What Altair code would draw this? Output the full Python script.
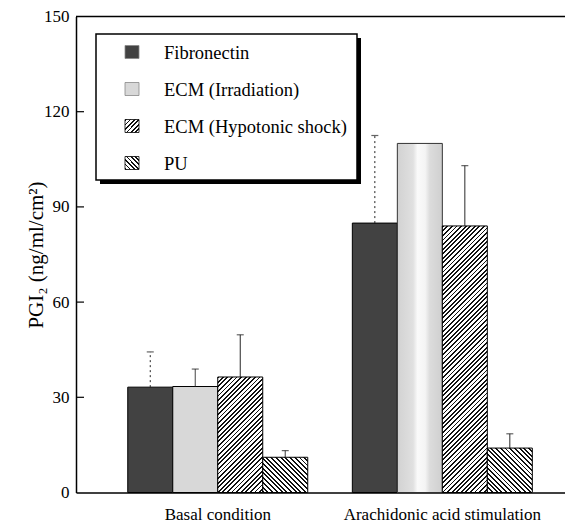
import altair as alt
import pandas as pd

# ---------------- data ----------------
groups = ["Basal condition", "Arachidonic acid stimulation"]
series = ["Fibronectin", "ECM (Irradiation)", "ECM (Hypotonic shock)", "PU"]
basal_mean = [33.2, 33.4, 36.4, 11.1]
basal_upper = [44.3, 38.9, 49.7, 13.2]
arach_mean = [84.9, 110.0, 84.0, 14.0]
arach_upper = [112.5, None, 103.0, 18.5]
y_ticks = [0, 30, 60, 90, 120, 150]
y_title = "PGI\u2082 (ng/ml/cm\u00b2)"

# ---------------- layout / style ----------------
W, H = 489, 476
PX = H / 150.0
BAR_W = 45.0
FONT = "Liberation Serif"
DARK = "#424242"
LIGHT = "#d8d8d8"

rows = []
for g, means, ups in [(groups[0], basal_mean, basal_upper),
                      (groups[1], arach_mean, arach_upper)]:
    for s, m, u in zip(series, means, ups):
        rows.append({"group": g, "series": s, "value": m, "upper": u})
df = pd.DataFrame(rows)


def hatch(w, h, kind, period=4.6, frac=0.4, ink="#111111", paper="#ffffff"):
    s = (w + h) / (w * w + h * h)
    if kind == "/":
        x1, y1, x2, y2 = 0, 0, s * w, s * h
    else:
        x1, y1, x2, y2 = 0, 1, s * w, 1 - s * h
    n = max(1, round((w + h) / period))
    stops = []
    for i in range(n):
        a, b, c = i / n, (i + frac) / n, (i + 1) / n
        stops += [alt.GradientStop(offset=round(a, 5), color=ink),
                  alt.GradientStop(offset=round(b, 5), color=ink),
                  alt.GradientStop(offset=round(b, 5), color=paper),
                  alt.GradientStop(offset=round(c, 5), color=paper)]
    return alt.LinearGradient(gradient="linear", stops=stops,
                              x1=x1, y1=y1, x2=round(x2, 5), y2=round(y2, 5))


# light stippled bar with a pale band through the middle (as in the scan)
pale_band = alt.LinearGradient(gradient="linear", x1=0, y1=0, x2=1, y2=0, stops=[
    alt.GradientStop(offset=0, color="#d2d2d2"),
    alt.GradientStop(offset=0.35, color="#e0e0e0"),
    alt.GradientStop(offset=0.45, color="#fafafa"),
    alt.GradientStop(offset=0.62, color="#f4f4f4"),
    alt.GradientStop(offset=0.72, color="#dcdcdc"),
    alt.GradientStop(offset=1, color="#cfcfcf")])

x_enc = alt.X("group:N", sort=groups,
              scale=alt.Scale(domain=groups, paddingInner=0.1986,
                              paddingOuter=0.188, align=0.613),
              axis=alt.Axis(title=None, ticks=False, tickSize=0, labelAngle=0,
                            labelPadding=14, labelFont=FONT, labelFontSize=17,
                            labelColor="black", labelLimit=0, domainColor="black",
                            domainWidth=1.5, grid=False))
xo_enc = alt.XOffset("series:N", sort=series,
                     scale=alt.Scale(domain=series, paddingInner=0, paddingOuter=0))
y_axis = alt.Axis(values=y_ticks, ticks=False, tickSize=0, labelPadding=7,
                  labelFont=FONT, labelFontSize=17, labelColor="black",
                  domainColor="black", domainWidth=1.5, grid=False,
                  title=y_title, titleFont=FONT, titleFontSize=21,
                  titleFontWeight="normal", titleColor="black",
                  titleAngle=270, titleX=-34, titleY=H / 2,
                  titleAlign="center", titleBaseline="alphabetic")
y_scale = alt.Scale(domain=[0, 150], nice=False, zero=True)

base = alt.Chart(df).encode(
    x=x_enc, xOffset=xo_enc,
    y=alt.Y("value:Q", scale=y_scale, axis=y_axis, title=y_title))

layers = []

# solid-filled bars
layers.append(base.transform_filter(alt.datum.series == series[0])
              .mark_bar(fill=DARK, stroke="black", strokeWidth=1))
layers.append(base.transform_filter(
    (alt.datum.series == series[1]) & (alt.datum.group == groups[0]))
    .mark_bar(fill=LIGHT, stroke="black", strokeWidth=1))
layers.append(base.transform_filter(
    (alt.datum.series == series[1]) & (alt.datum.group == groups[1]))
    .mark_bar(fill=pale_band, stroke="#333333", strokeWidth=1))

# hatched bars (one gradient each, sized to the bar)
for g, means in [(groups[0], basal_mean), (groups[1], arach_mean)]:
    for s, kind in [(series[2], "/"), (series[3], "\\")]:
        h = means[series.index(s)] * PX
        layers.append(
            base.transform_filter((alt.datum.group == g) & (alt.datum.series == s))
            .mark_bar(fill=hatch(BAR_W, h, kind), stroke="black", strokeWidth=1))

# error bars (upper only)
err = alt.Chart(df).transform_filter("isValid(datum.upper)")
layers.append(err.mark_rule(color="#222222", strokeWidth=1).encode(
    x=x_enc, xOffset=xo_enc,
    y=alt.Y("value:Q", title=y_title), y2="upper:Q",
    strokeDash=alt.StrokeDash("series:N", scale=alt.Scale(
        domain=series, range=[[2, 3], [1, 0], [1, 0], [1, 0]]), legend=None)))
layers.append(err.mark_tick(color="#222222", thickness=1.2, size=7).encode(
    x=x_enc, xOffset=xo_enc, y=alt.Y("upper:Q", title=y_title)))

# inward y ticks and top border
layers.append(alt.Chart(pd.DataFrame({"value": y_ticks[1:-1]})).mark_rule(
    color="black", strokeWidth=1.2).encode(
    y=alt.Y("value:Q", title=y_title), x=alt.value(0), x2=alt.value(8)))
layers.append(alt.Chart(pd.DataFrame({"value": [150]})).mark_rule(
    color="black", strokeWidth=1.5).encode(
    y=alt.Y("value:Q", title=y_title), x=alt.value(0), x2=alt.value(W)))

# ---------------- legend (drawn by hand) ----------------
one = pd.DataFrame({"k": [0]})
layers.append(alt.Chart(one).mark_rect(fill="black").encode(
    x=alt.value(24), x2=alt.value(285), y=alt.value(21.5), y2=alt.value(167.5)))
layers.append(alt.Chart(one).mark_rect(fill="white", stroke="black", strokeWidth=1.5).encode(
    x=alt.value(20), x2=alt.value(281), y=alt.value(17.5), y2=alt.value(163.5)))
sw_fills = [DARK, LIGHT, hatch(14, 13, "/", period=4.2), hatch(14, 13, "\\", period=4.2)]
for i, (s, f) in enumerate(zip(series, sw_fills)):
    cy = 35.5 + 37 * i
    layers.append(alt.Chart(pd.DataFrame({"series": [s]})).mark_rect(
        fill=f, stroke="black" if i >= 2 else "#888888", strokeWidth=0.8).encode(
        x=alt.value(49), x2=alt.value(63), y=alt.value(cy - 6.5), y2=alt.value(cy + 6.5)))
    layers.append(alt.Chart(pd.DataFrame({"series": [s]})).mark_text(
        font=FONT, fontSize=18.5, align="left", baseline="middle", color="black").encode(
        text="series:N", x=alt.value(88), y=alt.value(cy + 1)))

chart = alt.layer(*layers).properties(
    width=W, height=H,
    padding={"left": 68, "top": 8.5, "right": 0, "bottom": 38},
    autosize=alt.AutoSizeParams(type="none"),
    background="white",
).configure_view(stroke=None)

chart.save("out.html", embed_options={"renderer": "svg", "actions": False})
